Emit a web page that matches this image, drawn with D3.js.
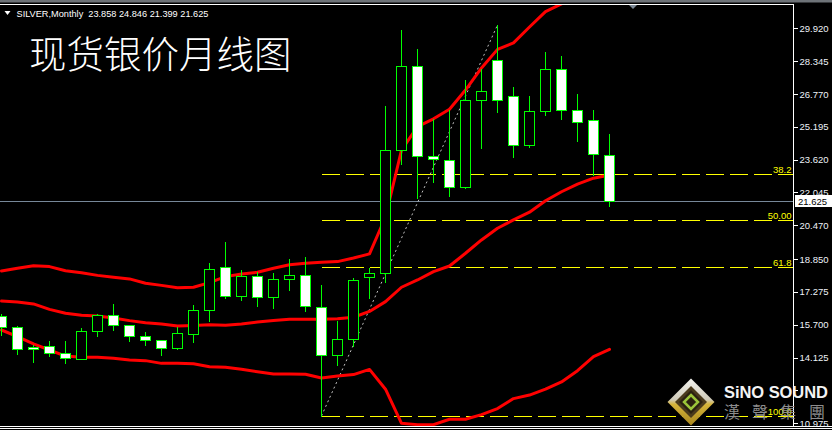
<!DOCTYPE html>
<html><head><meta charset="utf-8">
<script src="https://cdn.jsdelivr.net/npm/d3@7/dist/d3.min.js"></script>
<style>html,body{margin:0;padding:0;background:#000;overflow:hidden}</style>
</head><body><svg id="c" width="832" height="430"></svg>
<script>
const months = ["2018-07","2018-08","2018-09","2018-10","2018-11","2018-12",
"2019-01","2019-02","2019-03","2019-04","2019-05","2019-06","2019-07","2019-08","2019-09","2019-10","2019-11","2019-12",
"2020-01","2020-02","2020-03","2020-04","2020-05","2020-06","2020-07","2020-08","2020-09","2020-10","2020-11","2020-12",
"2021-01","2021-02","2021-03","2021-04","2021-05","2021-06","2021-07","2021-08","2021-09"];
const open  = [16.12,15.58,14.62,14.67,14.33,14.07,15.39,16.15,15.68,15.15,14.96,14.57,15.24,16.40,18.46,17.07,18.03,17.02,17.88,18.07,16.54,14.24,15.00,17.98,18.17,24.07,28.10,23.78,23.59,22.29,26.47,28.39,26.66,24.31,25.94,27.95,25.99,25.51,23.858];
const high  = [16.22,15.64,14.75,14.92,14.92,15.55,16.22,16.70,15.70,15.35,14.97,15.58,16.65,18.66,19.67,18.33,18.22,18.20,18.86,18.95,17.61,15.88,17.93,18.44,26.19,29.84,28.93,25.57,26.00,27.43,27.95,30.08,27.09,26.66,28.77,28.58,26.77,26.00,24.846];
const low   = [15.21,14.31,13.93,14.20,13.88,14.05,15.18,15.46,14.94,14.75,14.27,14.56,14.89,15.90,17.00,16.90,16.62,16.52,17.38,16.38,11.33,13.79,14.70,16.97,17.77,23.41,21.78,22.55,21.88,22.25,24.19,25.89,23.76,24.24,25.78,25.56,24.50,22.87,21.399];
const close = [15.58,14.52,14.52,14.33,14.09,15.39,16.15,15.68,15.15,14.96,14.57,15.29,16.40,18.36,17.07,18.03,17.02,17.88,18.07,16.59,14.24,15.00,17.83,18.17,24.07,28.10,23.78,23.64,22.29,26.47,26.90,26.47,24.31,25.94,27.95,25.99,25.41,23.88,21.625];
const bbUpper  = [18.28,18.41,18.53,18.49,18.29,18.20,18.07,17.98,17.90,17.69,17.59,17.48,17.50,17.72,18.01,18.14,18.22,18.41,18.58,18.65,18.70,18.73,18.90,19.10,20.87,24.08,25.20,25.58,26.04,26.96,28.02,28.91,29.22,29.98,30.72,31.09,31.45,31.70,31.75];
const bbMiddle = [16.84,16.79,16.70,16.44,16.25,16.16,16.12,16.03,15.90,15.80,15.74,15.64,15.67,15.70,15.68,15.74,15.83,15.90,15.96,15.96,15.96,15.99,16.06,16.34,16.81,17.50,17.85,18.25,18.52,19.13,19.77,20.33,20.73,21.10,21.65,22.08,22.45,22.73,22.88];
const bbLower  = [15.45,15.13,14.78,14.49,14.20,14.14,14.14,14.09,14.01,13.98,13.85,13.85,13.83,13.69,13.66,13.57,13.45,13.34,13.34,13.33,13.15,13.24,13.31,13.56,12.61,10.975,10.91,10.91,11.17,11.17,11.39,11.68,12.16,12.33,12.61,12.96,13.50,14.17,14.52];
const yTicks = [10.975,12.550,14.125,15.700,17.275,18.850,20.470,22.045,23.620,25.195,26.770,28.345,29.920];
// 12.550 is hidden under the logo in the reference
const yTickLabels = ["10.975","","14.125","15.700","17.275","18.850","20.470","22.045","23.620","25.195","26.770","28.345","29.920"];
const fibLevels = [38.2, 50.0, 61.8, 100.0];
const fibLabels = ["38.2","50.00","61.8","100.0"];
const fibLowIndex = 20, fibHighIndex = 31;
const lastPrice = 21.625;
const lastPriceLabel = "21.625";
const header = "SILVER,Monthly  23.858 24.846 21.399 21.625";
const title = "现货银价月线图";
const logoName = "SiNO SOUND";
const logoChinese = ["漢","聲","集","團"];

const svg = d3.select("#c");
const W = 832, H = 430, plotRight = 793.5, plotTop = 4.5, plotBottom = 426.5;
svg.append("rect").attr("width", W).attr("height", H).attr("fill", "#000");

const x = d3.scalePoint().domain(months).range([1.5, 609.5]);
const y = d3.scaleLinear().domain([10.975, 29.920]).range([423.3, 28.3]);

// frame
svg.append("rect").attr("x",0).attr("y",0).attr("width",W).attr("height",2.5).attr("fill","#6e7378");
svg.append("line").attr("x1",0).attr("x2",plotRight).attr("y1",plotTop).attr("y2",plotTop).attr("stroke","#fff").attr("shape-rendering","crispEdges");
svg.append("line").attr("x1",plotRight).attr("x2",plotRight).attr("y1",plotTop).attr("y2",plotBottom).attr("stroke","#fff").attr("shape-rendering","crispEdges");
svg.append("line").attr("x1",0).attr("x2",W).attr("y1",426.5).attr("y2",426.5).attr("stroke","#fff").attr("shape-rendering","crispEdges");
svg.append("line").attr("x1",0).attr("x2",W).attr("y1",428.5).attr("y2",428.5).attr("stroke","#fff").attr("shape-rendering","crispEdges");
svg.append("path").attr("d","M629,5 L637,5 L633,9 Z").attr("fill","#7a8794");

svg.append("defs").append("clipPath").attr("id","plot").append("rect")
  .attr("x",0).attr("y",5).attr("width",793).attr("height",421);
const g = svg.append("g").attr("clip-path","url(#plot)");

// last price line
g.append("line").attr("x1",0).attr("x2",plotRight)
  .attr("y1",Math.round(y(lastPrice))+0.5).attr("y2",Math.round(y(lastPrice))+0.5)
  .attr("stroke","#778899").attr("shape-rendering","crispEdges");

// fibonacci
const fH = high[fibHighIndex], fL = low[fibLowIndex];
const fx0 = x(months[fibLowIndex]);
fibLevels.forEach((lv,i)=>{
  const v = fH - lv/100*(fH-fL);
  const yy = Math.round(y(v))+0.5;
  g.append("line").attr("x1",fx0).attr("x2",plotRight).attr("y1",yy).attr("y2",yy)
   .attr("stroke","#ffff00").attr("stroke-dasharray","18,6").attr("shape-rendering","crispEdges");
});
// trend line
g.append("line")
  .attr("x1",x(months[fibLowIndex])).attr("y1",y(fL))
  .attr("x2",x(months[fibHighIndex])).attr("y2",y(fH))
  .attr("stroke","#c0c0c0").attr("stroke-dasharray","2,3");

// bollinger
const line = d3.line().x((d,i)=>x(months[i])).y(d=>y(d));
[bbUpper,bbMiddle,bbLower].forEach(arr=>{
  g.append("path").attr("d",line(arr)).attr("fill","none").attr("stroke","#ff0000")
   .attr("stroke-width",3).attr("stroke-linejoin","round").attr("stroke-linecap","round");
});

// candles
months.forEach((m,i)=>{
  const cx = x(m);
  g.append("line").attr("x1",cx).attr("x2",cx).attr("y1",Math.round(y(high[i]))).attr("y2",Math.round(y(low[i]))+1)
   .attr("stroke","#00ff00").attr("shape-rendering","crispEdges");
  const top = Math.round(y(Math.max(open[i],close[i])))+0.5;
  const bot = Math.round(y(Math.min(open[i],close[i])))+0.5;
  const bear = close[i] < open[i];
  g.append("rect").attr("x",cx-5).attr("y",top).attr("width",10).attr("height",Math.max(bot-top,1))
   .attr("fill", bear ? "#fff" : "#000").attr("stroke","#00ff00").attr("shape-rendering","crispEdges");
});

// fib labels
fibLevels.forEach((lv,i)=>{
  const v = fH - lv/100*(fH-fL);
  svg.append("text").attr("x",791.5).attr("y",Math.round(y(v))-1).attr("text-anchor","end")
   .attr("font-family","Liberation Sans, Arial, sans-serif").attr("font-size",9.5).attr("fill","#ffff00").text(fibLabels[i]);
});

// axis
const axis = d3.axisRight(y).tickValues(yTicks).tickFormat((d,i)=>yTickLabels[i]).tickSize(4).tickPadding(2);
const ag = svg.append("g").attr("transform",`translate(${plotRight},0)`).call(axis);
ag.select(".domain").remove();
ag.selectAll(".tick line").attr("stroke","#fff").attr("shape-rendering","crispEdges");
ag.selectAll(".tick text").attr("fill","#eef2f8").attr("font-family","Liberation Sans, Arial, sans-serif").attr("font-size",9.5);

// last price label
const lpY = y(lastPrice);
svg.append("rect").attr("x",795).attr("y",Math.round(lpY)-6).attr("width",37).attr("height",12).attr("fill","#fff");
svg.append("text").attr("x",798).attr("y",Math.round(lpY)+4).attr("font-family","Liberation Sans, Arial, sans-serif")
  .attr("font-size",9.5).attr("fill","#000").text(lastPriceLabel);

// header
svg.append("path").attr("d","M4.5,11 L10.5,11 L7.5,15 Z").attr("fill","#fff");
svg.append("text").attr("x",16.5).attr("y",16.5).attr("font-family","Liberation Sans, Arial, sans-serif")
  .attr("font-size",9.2).attr("fill","#fff").style("white-space","pre").text(header);

// title
svg.append("text").attr("x",29).attr("y",67.5).attr("font-family","Noto Sans CJK SC, sans-serif")
  .attr("font-weight",300).attr("font-size",37.5).attr("fill","#fff").text(title);

// logo
const lg = svg.append("g");
const cx0 = 691, cy0 = 402, r = 23.5;
const dia = (rr)=>`M${cx0},${cy0-rr} L${cx0+rr},${cy0} L${cx0},${cy0+rr} L${cx0-rr},${cy0} Z`;
const defs = svg.select("defs");
const gr = defs.append("linearGradient").attr("id","gold").attr("x1","0").attr("y1","0").attr("x2","0").attr("y2","1");
gr.append("stop").attr("offset","0").attr("stop-color","#f4f4f0");
gr.append("stop").attr("offset","0.45").attr("stop-color","#cfcab8");
gr.append("stop").attr("offset","0.55").attr("stop-color","#d6b43a");
gr.append("stop").attr("offset","1").attr("stop-color","#a8861e");
lg.append("path").attr("d",dia(r)).attr("fill","url(#gold)");
lg.append("path").attr("d",dia(16)).attr("fill","#4a3a1c");
lg.append("path").attr("d",dia(12)).attr("fill","#2a2010");
lg.append("path").attr("d",dia(7)).attr("fill","none").attr("stroke","#9cc43a").attr("stroke-width",2.5);
lg.append("text").attr("x",724).attr("y",398).attr("font-family","Liberation Sans, Arial, sans-serif")
  .attr("font-weight","bold").attr("font-size",16.5).attr("textLength",104).attr("fill","#f4f4f4").text(logoName);
logoChinese.forEach((ch,i)=>{
  lg.append("text").attr("x",[724,752,780,809][i]).attr("y",418).attr("font-family","Noto Sans CJK TC, sans-serif")
   .attr("font-size",16).attr("fill","#8c8c8c").text(ch);
});
</script></body></html>
